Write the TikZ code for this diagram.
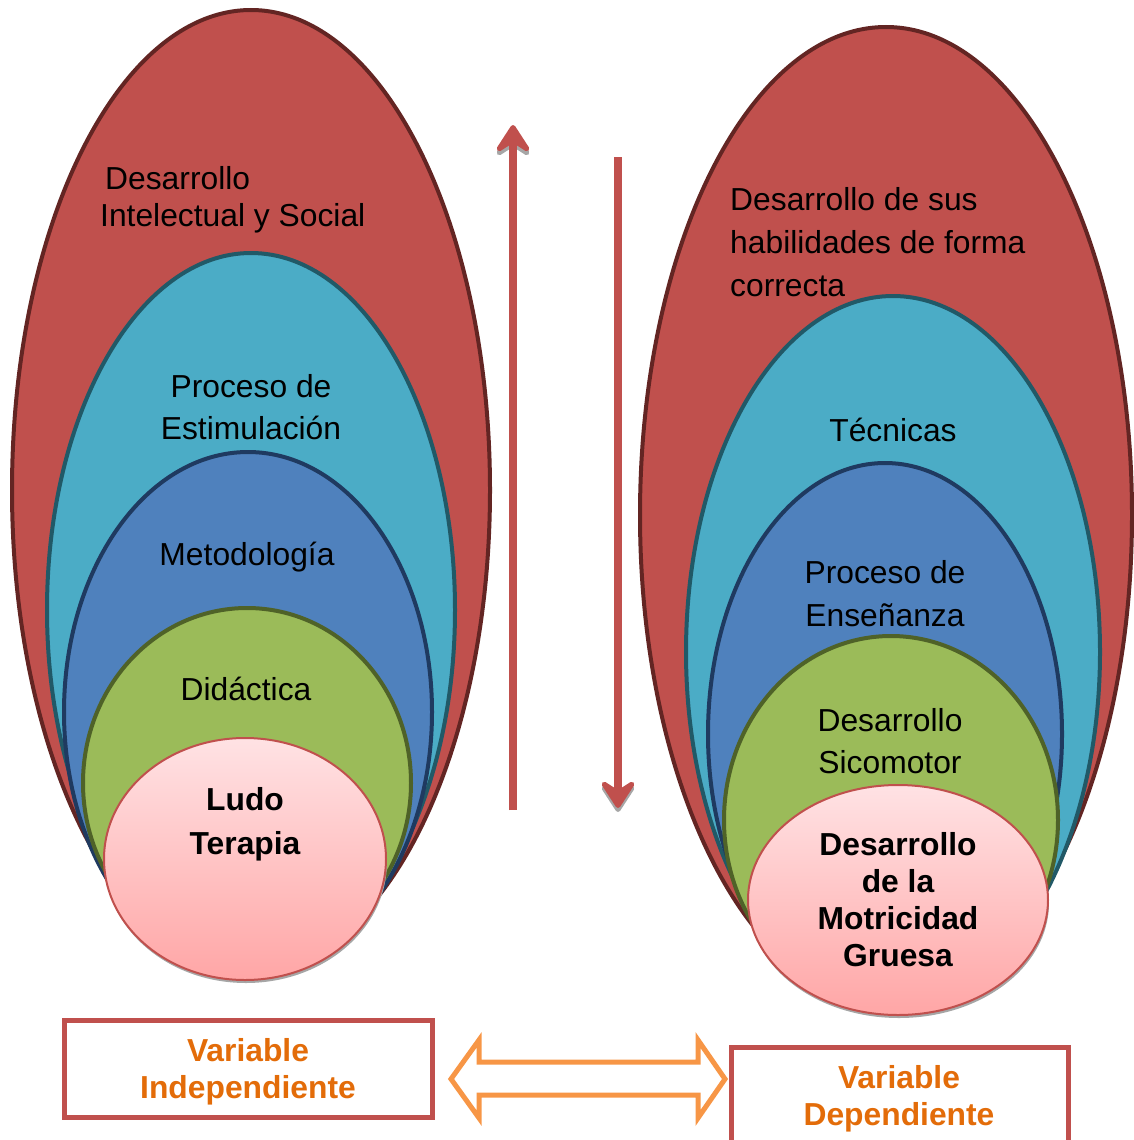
\documentclass[tikz,border=0pt]{standalone}
\usepackage{fontspec}
\setmainfont{Liberation Sans}
\usetikzlibrary{arrows.meta}
\definecolor{redfill}{HTML}{C0504D}
\definecolor{redline}{HTML}{632523}
\definecolor{cyanfill}{HTML}{4BACC6}
\definecolor{cyanline}{HTML}{215967}
\definecolor{bluefill}{HTML}{4F81BD}
\definecolor{blueline}{HTML}{1F3A60}
\definecolor{greenfill}{HTML}{9BBB59}
\definecolor{greenline}{HTML}{4F6228}
\definecolor{pinktop}{HTML}{FFE2E4}
\definecolor{pinkbot}{HTML}{FFA6A6}
\definecolor{orangeline}{HTML}{F79646}
\definecolor{orangetext}{HTML}{E36C09}
\tikzset{
  redell/.style={fill=redfill, draw=redline, line width=4pt},
  cyanell/.style={fill=cyanfill, draw=cyanline, line width=4pt},
  blueell/.style={fill=bluefill, draw=blueline, line width=4pt},
  greenell/.style={fill=greenfill, draw=greenline, line width=4pt},
  pinkell/.style={top color=pinktop, bottom color=pinkbot, draw=redfill, line width=2pt},
  shadowell/.style={fill=black!35},
  lbl/.style={font=\fontsize{31.8}{37}\selectfont, inner sep=0pt, align=center, text=black},
  blbl/.style={font=\fontsize{31.8}{37}\selectfont\bfseries, inner sep=0pt, align=center, text=black},
  olbl/.style={font=\fontsize{31.8}{37}\selectfont\bfseries, inner sep=0pt, align=center, text=orangetext},
  varbox/.style={draw=redfill, line width=5pt, fill=white},
  vararrow/.style={line width=8pt, draw=redfill, -{Stealth[length=34pt,width=44pt,inset=14pt,round]}},
  varshadow/.style={line width=8pt, draw=black!35, -{Stealth[length=34pt,width=44pt,inset=14pt,round]}},
}
\begin{document}
\begin{tikzpicture}[x=1pt,y=-1pt]
\useasboundingbox (0,0) rectangle (1133,1140);
% ---------- left stack ----------
\draw[redell] (251,490) ellipse [x radius=239, y radius=480];
\draw[cyanell] (251,610) ellipse [x radius=204, y radius=357];
\draw[blueell] (248,712) ellipse [x radius=184, y radius=260];
\draw[greenell] (247,783) ellipse [x radius=164, y radius=175];
\fill[shadowell] (246,862) ellipse [x radius=141, y radius=121];
\draw[pinkell] (245,859) ellipse [x radius=141, y radius=121];
\node[lbl, align=left, anchor=west] (l1) at (100,200) {\hspace{5pt}Desarrollo\\Intelectual y Social};
\node[lbl, font=\fontsize{31.8}{42}\selectfont] (l2) at (251,407) {Proceso de\\Estimulación};
\node[lbl] (l3) at (247,557) {Metodología};
\node[lbl] (l4) at (246,689) {Didáctica};
\node[blbl, font=\fontsize{31.8}{44}\selectfont\bfseries] (l5) at (245,824) {Ludo\\Terapia};
% ---------- right stack ----------
\draw[redell] (886,515) ellipse [x radius=246, y radius=488];
\draw[cyanell] (893,652) ellipse [x radius=207, y radius=356];
\draw[blueell] (885,734) ellipse [x radius=177, y radius=271];
\draw[greenell] (891,820) ellipse [x radius=167, y radius=184];
\fill[shadowell] (899,903) ellipse [x radius=150, y radius=115];
\draw[pinkell] (898,900) ellipse [x radius=150, y radius=115];
\node[lbl, align=left, anchor=west, font=\fontsize{31.8}{43}\selectfont] (r1) at (730,242) {Desarrollo de sus\\habilidades de forma\\correcta};
\node[lbl] (r2) at (893,430) {Técnicas};
\node[lbl, font=\fontsize{31.8}{43}\selectfont] (r3) at (885,594) {Proceso de\\Enseñanza};
\node[lbl, font=\fontsize{31.8}{42}\selectfont] (r4) at (890,741) {Desarrollo\\Sicomotor};
\node[blbl] (r5) at (898,900) {Desarrollo\\de la\\Motricidad\\Gruesa};
% ---------- vertical arrows ----------
\coordinate (upS) at (513,810);
\coordinate (upE) at (513,125);
\coordinate (dnS) at (618,157);
\coordinate (dnE) at (618,808);
\draw[varshadow] (upS) -- ([yshift=-4pt]upE);
\draw[varshadow] (dnS) -- ([yshift=-4pt]dnE);
\draw[vararrow] (upS) -- (upE);
\draw[vararrow] (dnS) -- (dnE);
% ---------- variable boxes ----------
\draw[varbox] (64,1020) rectangle (432,1117);
\node[olbl] (vi) at (248,1072) {Variable\\Independiente};
\draw[varbox] (731,1047) rectangle (1068,1170);
\node[olbl] (vd) at (899,1099) {Variable\\Dependiente};
% ---------- double block arrow ----------
\draw[draw=orangeline, line width=5pt, fill=white, line join=miter]
  (451,1079) -- (479,1040) -- (479,1062) -- (698,1062) -- (698,1040)
  -- (725,1079) -- (698,1118) -- (698,1095) -- (479,1095) -- (479,1118) -- cycle;
\end{tikzpicture}
\end{document}
